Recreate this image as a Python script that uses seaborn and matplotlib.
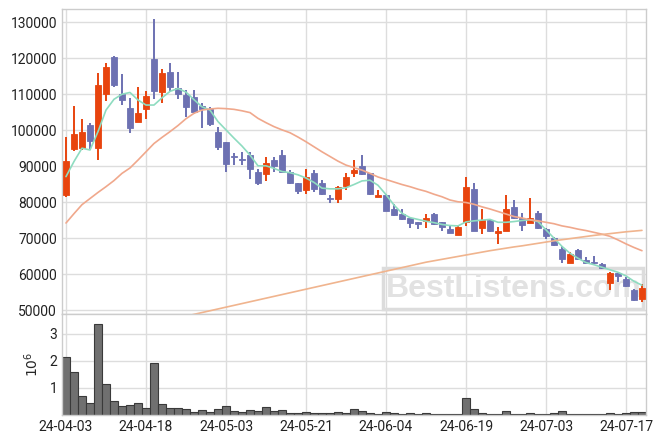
import matplotlib as mpl
mpl.use('Agg')
import matplotlib.pyplot as plt
import matplotlib.patches as patches
import seaborn as sns
import pandas as pd
import numpy as np

sns.set_style('white')
plt.rcParams['font.family'] = ['Roboto', 'DejaVu Sans']
plt.rcParams['font.size'] = 10

tick_pos = [0, 10, 20, 30, 40, 50, 60, 70]
tick_labels = ['24-04-03', '24-04-18', '24-05-03', '24-05-21',
               '24-06-04', '24-06-19', '24-07-03', '24-07-17']

opens = [82100, 94700, 95000, 101400, 95000, 110000, 120300, 110000, 106200, 102300,
         106000, 119800, 110700, 116200, 111700, 109800, 109200, 106700, 105900, 99500,
         96700, 92700, 92000, 93100, 88400, 87700, 91800, 93100, 88500, 85400,
         83500, 88100, 85300, 81200, 81000, 84600, 88100, 90000, 88000, 81500,
         81900, 78000, 76700, 75500, 74500, 74800, 76700, 74400, 72500, 70900,
         74400, 83600, 72800, 75100, 71400, 72100, 78700, 75700, 74200, 77100,
         72500, 70100, 67000, 63200, 66700, 64000, 63400, 62800, 57500, 60300,
         58700, 55600, 53100]
closes = [91500, 98900, 99400, 96900, 112500, 117500, 112700, 108500, 100700, 104700,
          109500, 111000, 115900, 111900, 110000, 106400, 105200, 106000, 101800, 95200,
          90600, 92500, 91800, 89100, 85200, 90900, 90100, 88300, 85200, 83200,
          87000, 83700, 82400, 81000, 84200, 86900, 88900, 87700, 82400, 81900,
          77600, 76500, 75300, 74300, 74000, 75600, 73800, 73100, 71300, 73000,
          84200, 72000, 75100, 71900, 71900, 78100, 75500, 73600, 75600, 72700,
          70500, 68100, 64200, 65600, 64200, 63200, 63000, 61600, 60300, 59400,
          56600, 52900, 56200]
highs = [98000, 106600, 103000, 101900, 115800, 118600, 120600, 115600, 108900, 111900,
         111000, 130800, 116900, 118600, 116100, 111100, 111200, 107700, 106500, 101000,
         96700, 93800, 93900, 93900, 89300, 92500, 92600, 94400, 88900, 85400,
         89200, 89000, 86100, 82100, 84400, 88100, 91700, 93100, 88000, 83500,
         82400, 79400, 78200, 75500, 74500, 76700, 76900, 74400, 73400, 73300,
         86900, 85400, 78000, 75100, 73100, 82000, 80600, 76900, 81100, 77500,
         72700, 70400, 67800, 66200, 67000, 64700, 65100, 63100, 60500, 60300,
         59300, 55800, 57200]
lows = [81400, 94200, 94500, 94400, 91600, 108100, 111900, 106900, 99200, 102200,
        103100, 108600, 107500, 110900, 108600, 103600, 104400, 100600, 101200, 94400,
        88300, 90200, 90300, 86400, 84900, 85900, 88300, 88000, 85100, 82200,
        82200, 82900, 82100, 79900, 79700, 83400, 86900, 87600, 81900, 81300,
        77400, 76100, 75000, 72700, 72400, 72700, 73700, 71900, 71300, 70900,
        73300, 71900, 71100, 71800, 68400, 72100, 75400, 71900, 74200, 72600,
        69800, 67900, 63100, 63100, 64000, 62800, 62900, 61400, 55500, 57900,
        56400, 52500, 52100]

# listeners volume, millions
volume = [2.12, 1.57, 0.70, 0.43, 3.37, 1.13, 0.50, 0.32, 0.36, 0.43,
          0.25, 1.90, 0.39, 0.25, 0.25, 0.21, 0.10, 0.17, 0.10, 0.21,
          0.32, 0.13, 0.10, 0.17, 0.13, 0.28, 0.13, 0.17, 0.06, 0.06,
          0.10, 0.06, 0.06, 0.06, 0.10, 0.06, 0.21, 0.14, 0.06, 0.03,
          0.10, 0.06, 0.03, 0.06, 0.03, 0.06, 0.03, 0.03, 0.03, 0.03,
          0.61, 0.23, 0.08, 0.04, 0.04, 0.16, 0.03, 0.03, 0.07, 0.03,
          0.03, 0.06, 0.15, 0.03, 0.03, 0.03, 0.03, 0.03, 0.08, 0.03,
          0.06, 0.10, 0.10]

ma_short = [87100, 91300, 95000, 94500, 99600, 105600, 108600, 110000, 110500, 108400,
            107000, 107000, 109000, 110800, 111600, 110600, 108500, 106500, 105600, 102400,
            100100, 97800, 95600, 93100, 90100, 90100, 89400, 88500, 88200, 87600,
            86700, 85500, 83900, 83700, 83700, 84000, 84900, 85900, 86100, 84700,
            82100, 79200, 76900, 75700, 75200, 74700, 74300, 73800, 73500, 73400,
            74500, 74800, 75000, 75200, 74400, 74400, 74600, 74900, 75100, 74600,
            72300, 70000, 67700, 65800, 64400, 63200, 62600, 61900, 61200, 60500,
            59500, 58000, 56900]
ma_mid = [74200, 76800, 79300, 81000, 82700, 84300, 86000, 88000, 89500, 91700,
          94000, 96300, 98000, 99600, 101300, 103200, 104700, 105600, 105900, 106100,
          106000, 105800, 105400, 104900, 103300, 102100, 101000, 100100, 99300, 98100,
          96800, 95400, 94000, 92700, 91400, 90300, 89600, 88900, 88000, 87000,
          86300, 85600, 84900, 84300, 83600, 83000, 82200, 81500, 80600, 80100,
          79900, 79400, 78700, 78100, 77400, 76700, 76000, 75600, 75100, 74800,
          74400, 74000, 73400, 73000, 72500, 72100, 71600, 71100, 70500, 69500,
          68400, 67400, 66500]
ma_long = [np.nan] * 15 + [
          48300, 48800, 49300, 49800, 50300,
          50800, 51300, 51800, 52300, 52800, 53300, 53800, 54300, 54800, 55300,
          55800, 56300, 56800, 57300, 57800, 58300, 58800, 59300, 59800, 60300,
          60800, 61300, 61800, 62300, 62800, 63300, 63700, 64100, 64500, 64900,
          65300, 65700, 66100, 66500, 66850, 67200, 67550, 67850, 68200, 68550,
          68900, 69250, 69550, 69850, 70150, 70450, 70750, 71000, 71250, 71500,
          71750, 71950, 72150]

n = len(opens)
df = pd.DataFrame({'idx': np.arange(n), 'open': opens, 'close': closes,
                   'high': highs, 'low': lows, 'volume': np.array(volume) * 1e6,
                   'ma_short': ma_short, 'ma_mid': ma_mid, 'ma_long': ma_long})
df['up'] = df['close'] >= df['open']

RED = '#E8440E'
BLUE = '#6D71B2'
GRID = '#DDDDDD'

fig = plt.figure(figsize=(6.63, 4.44), dpi=100)
ax = fig.add_axes([0.0935, 0.2928, 0.8808, 0.6869])
axv = fig.add_axes([0.0935, 0.0653, 0.8808, 0.2275], sharex=ax)

# watermark
ax.add_patch(patches.Rectangle((0.55, 0.016), 0.445, 0.135, transform=ax.transAxes,
                               fill=False, edgecolor='#DCDCDC', lw=2.5, zorder=0.5))
ax.text(0.774, 0.083, 'BestListens.com', transform=ax.transAxes, ha='center', va='center',
        fontsize=23, fontweight='bold', color='#E2E2E2', family='Liberation Sans', zorder=0.6)

colors = np.where(df['up'], RED, BLUE)
body_bottom = np.minimum(df['open'], df['close'])
body_height = np.maximum(np.abs(df['close'] - df['open']), 250)
ax.vlines(df['idx'], df['low'], df['high'], colors=colors, lw=1.4, zorder=2)
ax.bar(df['idx'], body_height, bottom=body_bottom, width=0.65, color=colors,
       edgecolor=colors, lw=0.6, zorder=3)

sns.lineplot(data=df, x='idx', y='ma_short', ax=ax, color='#8EDCC0', lw=1.2, zorder=4)
sns.lineplot(data=df, x='idx', y='ma_mid', ax=ax, color='#F0A88C', lw=1.2, zorder=4)
sns.lineplot(data=df, x='idx', y='ma_long', ax=ax, color='#F0B48E', lw=1.2, zorder=4)

ax.set_xlim(-0.5, n - 0.5)
ax.set_ylim(48900, 133700)
ax.set_yticks(range(50000, 130001, 10000))
ax.set_yticklabels([str(v) for v in range(50000, 130001, 10000)])
ax.set_xticks(tick_pos)
ax.tick_params(axis='x', labelbottom=False, length=0)
ax.tick_params(axis='y', length=0, colors='#222222')
ax.set_xlabel('')
ax.set_ylabel('')
ax.grid(True, color=GRID, lw=1)
ax.set_axisbelow(True)

sns.barplot(data=df, x='idx', y='volume', ax=axv, native_scale=True, width=1,
            color='#707070', edgecolor='#3A3A3A', lw=0.8, saturation=1, zorder=2)
axv.set_xlim(-0.5, n - 0.5)
axv.set_ylim(0, 3.72e6)
axv.set_yticks([1e6, 2e6, 3e6])
axv.set_yticklabels(['1', '2', '3'])
axv.set_xticks(tick_pos)
axv.set_xticklabels(tick_labels)
axv.tick_params(length=0, colors='#222222')
axv.set_xlabel('')
axv.set_ylabel(r'$10^6$', fontsize=10, labelpad=6)
axv.grid(True, color=GRID, lw=1)
axv.set_axisbelow(True)

for a in (ax, axv):
    for s in a.spines.values():
        s.set_color('#CCCCCC')
        s.set_linewidth(1)

plt.savefig('out.png', dpi=100)
